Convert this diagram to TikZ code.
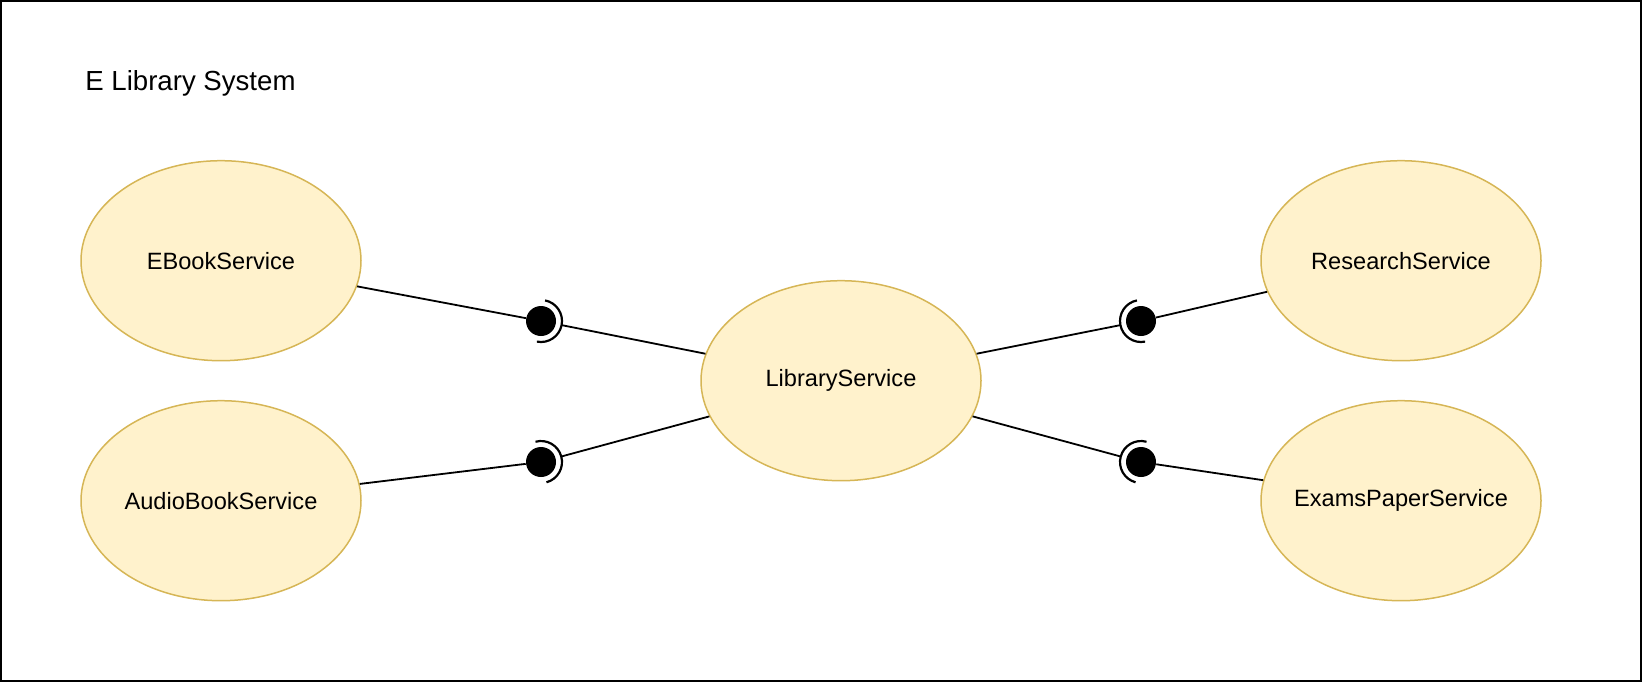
\documentclass[tikz,border=0pt]{standalone}
\usepackage{fontspec}
\setmainfont{Liberation Sans}
\usetikzlibrary{calc,shapes.geometric}
\definecolor{svcfill}{HTML}{FFF2CC}
\definecolor{svcdraw}{HTML}{D6B656}
\tikzset{
  svc/.style={ellipse, draw=svcdraw, fill=svcfill, line width=0.75pt,
    minimum width=140pt, minimum height=100pt, inner ysep=0pt, inner xsep=-20pt,
    font=\fontsize{11.8pt}{14pt}\selectfont},
  ball/.style={circle, fill=black, minimum size=15pt, inner sep=0pt},
  sockethole/.style={circle, minimum size=21pt, inner sep=0pt},
  edge/.style={draw=black, line width=0.9pt},
  socket/.style={draw=black, line width=1.1pt},
  frame/.style={draw=black, line width=1pt},
  title/.style={anchor=base west, inner sep=0pt, font=\fontsize{13.8pt}{16pt}\selectfont}
}
\begin{document}
\begin{tikzpicture}[x=0.5pt,y=-0.5pt]
\useasboundingbox (0,0) rectangle (1642,682);
\draw[frame] (1,1) rectangle (1641,681);
\node[title] (ttl) at (85,90) {E Library System};

\node[svc] (eb)  at (221,260.7)  {EBookService};
\node[svc] (ab)  at (221,500.7)  {AudioBookService};
\node[svc] (lib) at (841,380.7)  {LibraryService};
\node[svc] (rs)  at (1401,260.7) {ResearchService};
\node[svc] (ex)  at (1401,500.7) {ExamsPaperService};

\node[ball] (b1) at (541,321) {};
\node[ball] (b2) at (541,462) {};
\node[ball] (b3) at (1141,321) {};
\node[ball] (b4) at (1141,462) {};
\node[sockethole] (s1) at (b1) {};
\node[sockethole] (s2) at (b2) {};
\node[sockethole] (s3) at (b3) {};
\node[sockethole] (s4) at (b4) {};

\draw[edge] (eb) -- (b1);
\draw[edge] (ab) -- (b2);
\draw[edge] (rs) -- (b3);
\draw[edge] (ex) -- (b4);
\draw[edge] (s1) -- (lib);
\draw[edge] (s2) -- (lib);
\draw[edge] (s3) -- (lib);
\draw[edge] (s4) -- (lib);

\foreach \b in {b1,b2,b3,b4}{
  \draw[socket] let \p1=($(lib.center)-(\b.center)$), \n1={atan2(\y1,\x1)} in
    ([shift={(\n1-90:10.5pt)}]\b.center) arc[start angle=\n1-90, end angle=\n1+90, radius=10.5pt];
}
\end{tikzpicture}
\end{document}
